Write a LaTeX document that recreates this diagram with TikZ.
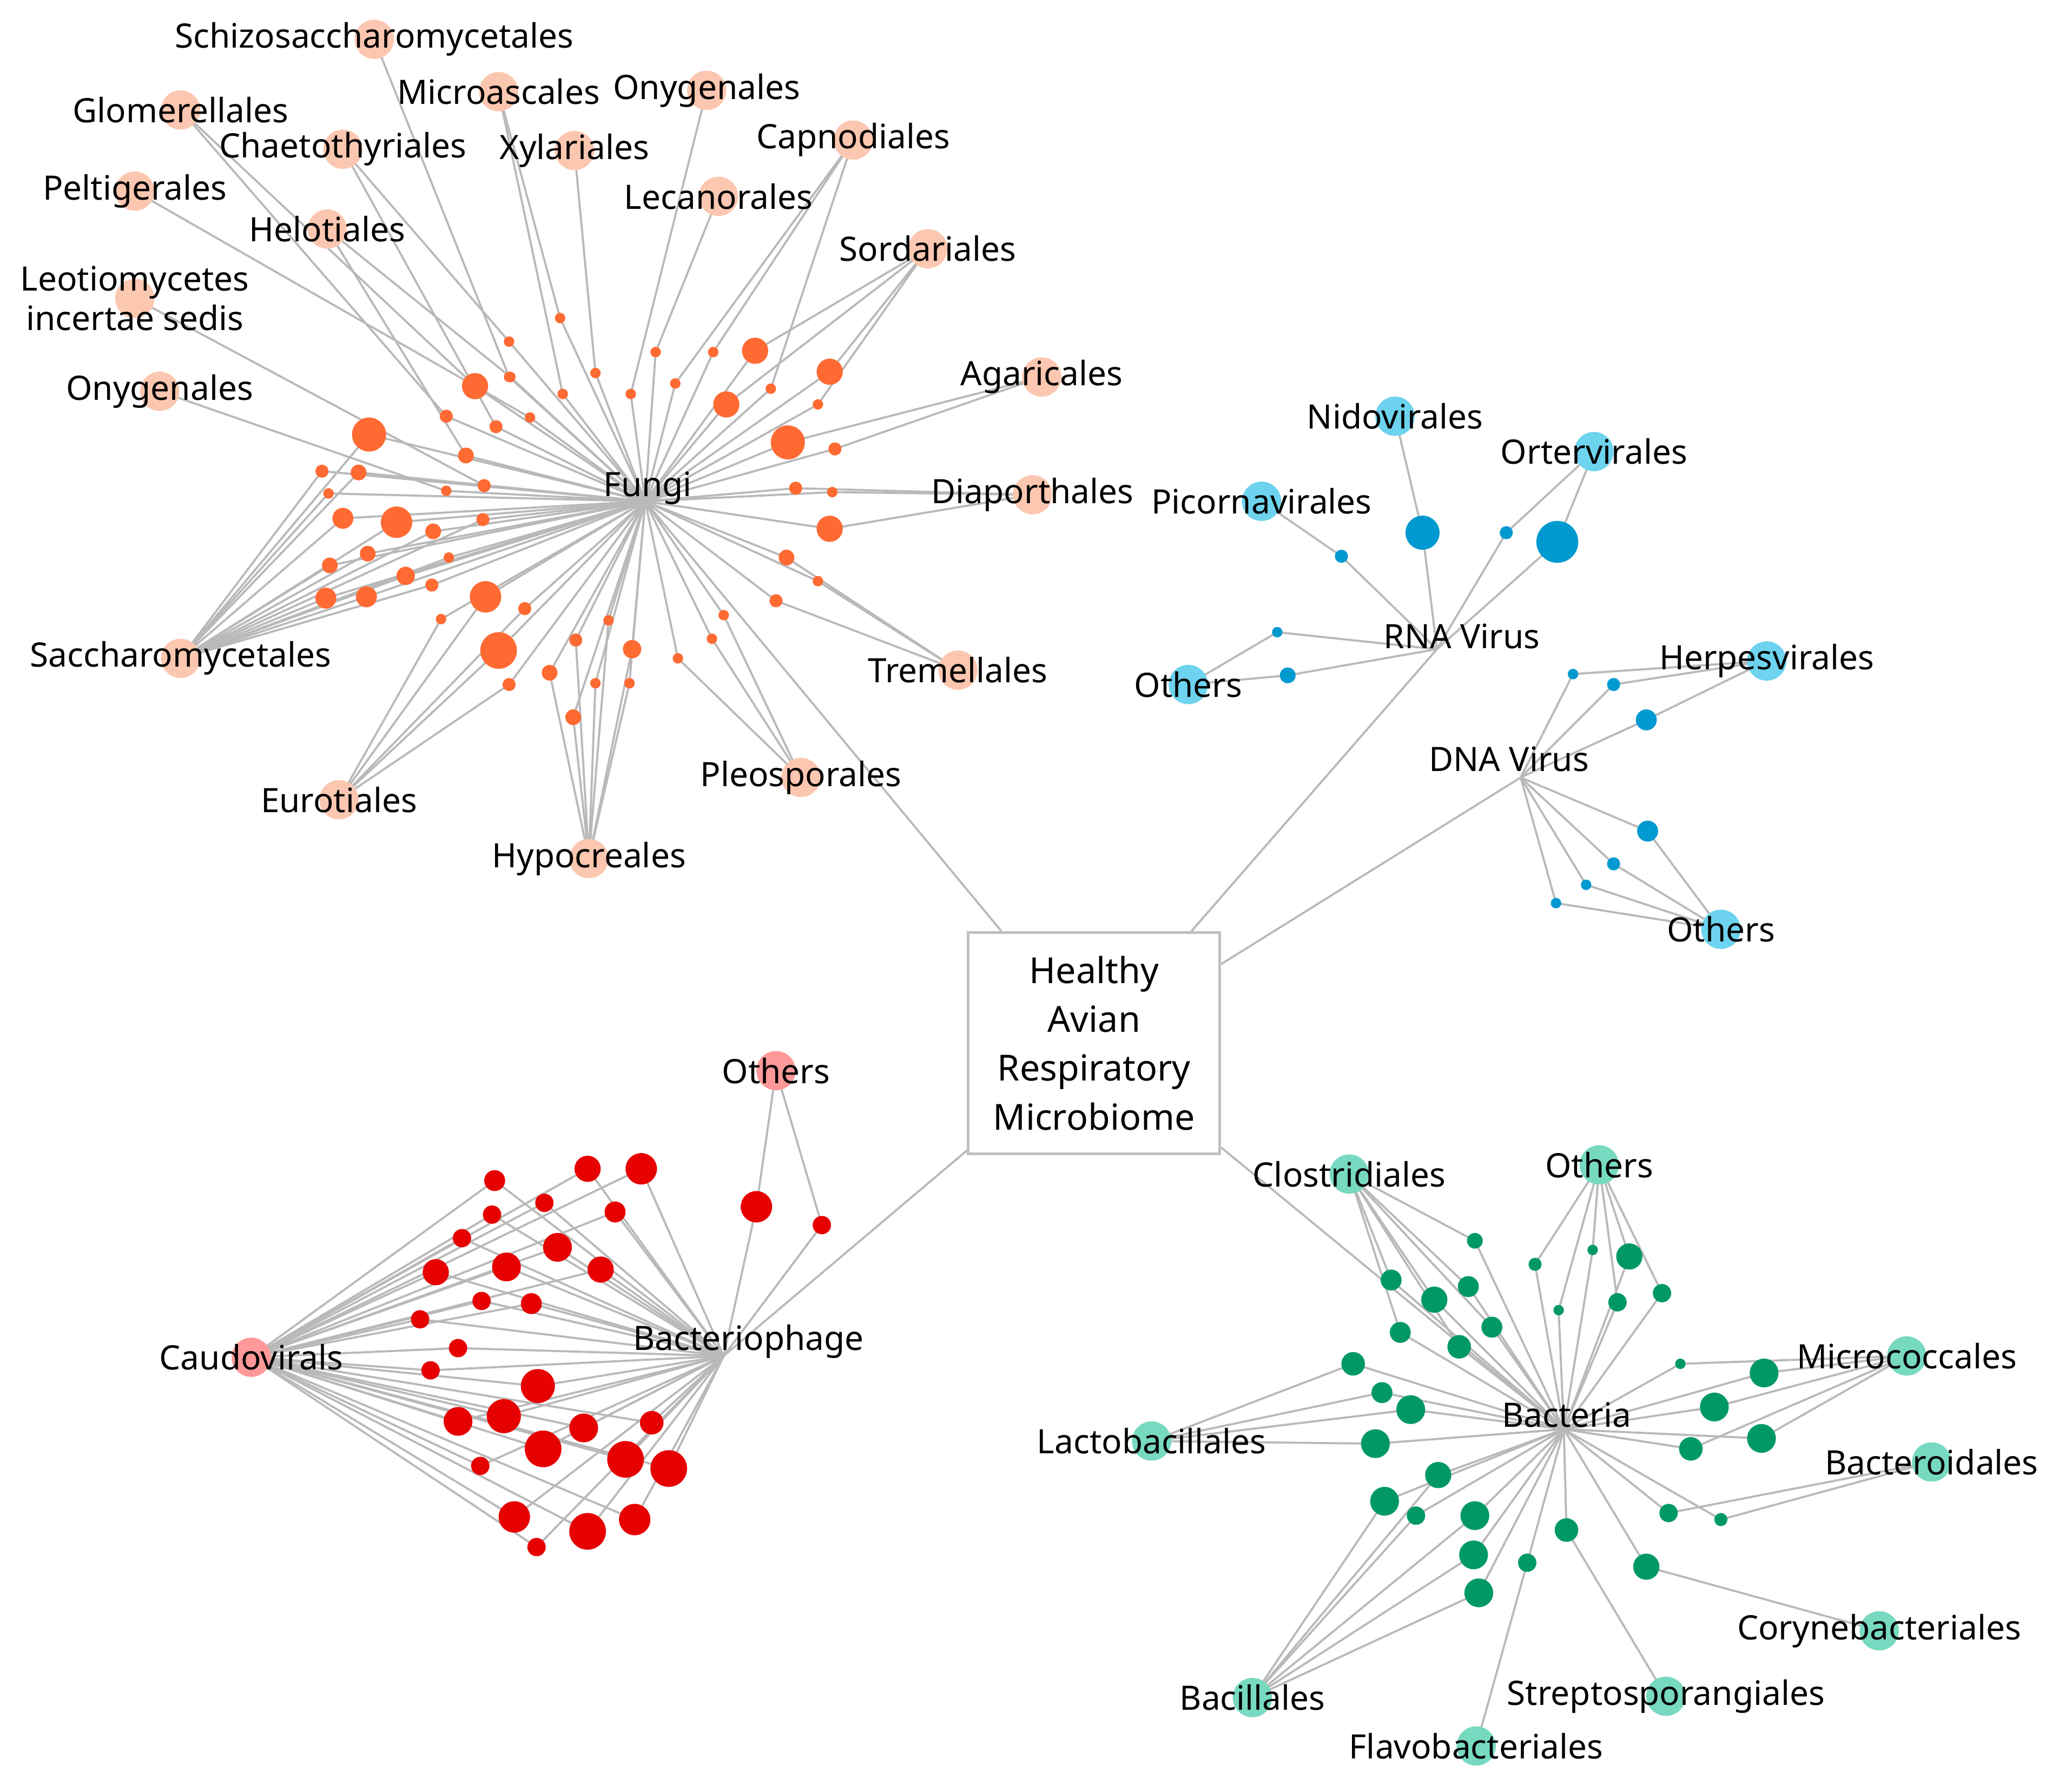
\documentclass[tikz,border=0pt]{standalone}
\usepackage{fontspec}
\setmainfont{Noto Sans}
\usetikzlibrary{backgrounds}
\definecolor{fungiL}{HTML}{FCC7B0}
\definecolor{fungiD}{HTML}{FF6A33}
\definecolor{virL}{HTML}{6DD3EE}
\definecolor{virD}{HTML}{0099D0}
\definecolor{phL}{HTML}{FF9999}
\definecolor{phD}{HTML}{E60000}
\definecolor{bacL}{HTML}{77D9BF}
\definecolor{bacD}{HTML}{009966}
\tikzset{
  edge/.style={draw=gray!55,line width=0.45pt},
  lab/.style={font=\fontsize{7.3}{8.6}\selectfont,align=center},
  order/.style={circle,inner sep=0,minimum size=0.3cm,fill=#1},
  dot/.style={circle,inner sep=0,fill=#1},
  hub/.style={lab,inner sep=0},
}
\begin{document}
\begin{tikzpicture}[x=0.01cm,y=-0.01cm]
  \useasboundingbox (0,0) rectangle (1568,1369);

  % centre
  \node[lab,draw=gray!50,line width=0.6pt,minimum width=1.92cm,minimum height=1.69cm,
        font=\fontsize{7.8}{10.6}\selectfont] (box) at (836,797)
        {Healthy\\Avian\\Respiratory\\Microbiome};

  % hubs
  \coordinate (fungi) at (493,383);
  \coordinate (rna) at (1098,496);
  \coordinate (dna) at (1162,594);
  \coordinate (phage) at (553,1036);
  \coordinate (bact) at (1195,1092);
  \node[hub] (fungiLab) at (495,373) {Fungi};
  \node[hub] (rnaLab) at (1117,486) {RNA Virus};
  \node[hub] (dnaLab) at (1153,580) {DNA Virus};
  \node[hub] (phageLab) at (572,1025) {Bacteriophage};
  \node[hub] (bactLab) at (1197,1081) {Bacteria};
  \begin{pgfonlayer}{background}
    \foreach \h in {fungi,rna,dna,phage,bact}
      \draw[edge] (box) -- (\h);
  \end{pgfonlayer}

  % orders
  \foreach \n/\x/\y/\t in {schizo/286/30/Schizosaccharomycetales, micro/381/70/Microascales,
      onyT/540/69/Onygenales, glom/138/84/Glomerellales, chae/262/114/Chaetothyriales,
      xyl/439/115/Xylariales, capn/652/107/Capnodiales, leca/549/150/Lecanorales,
      pelt/103/146/Peltigerales, helo/250/175/Helotiales, sord/709/190/Sordariales,
      leot/103/228/Leotiomycetes\\incertae sedis, agar/796/288/Agaricales,
      onyL/122/299/Onygenales, diap/789/378/Diaporthales, sacc/138/503/Saccharomycetales,
      trem/732/512/Tremellales, pleo/612/594/Pleosporales, euro/259/611/Eurotiales,
      hypo/450/656/Hypocreales}
    \node[order=fungiL,label={[lab]center:\t}] (\n) at (\x,\y) {};
  \foreach \n/\x/\y/\t in {nido/1066/318/Nidovirales, orte/1218/345/Ortervirales,
      pico/964/383/Picornavirales, rOth/908/523/Others, herp/1350/505/Herpesvirales,
      dOth/1315/710/Others}
    \node[order=virL,label={[lab]center:\t}] (\n) at (\x,\y) {};
  \foreach \n/\x/\y/\t in {cau/192/1037/Caudovirals, pOth/593/818/Others}
    \node[order=phL,label={[lab]center:\t}] (\n) at (\x,\y) {};
  \foreach \n/\x/\y/\t in {clos/1031/897/Clostridiales, bOth/1222/890/Others,
      mcoc/1457/1036/Micrococcales, lact/880/1101/Lactobacillales,
      bctd/1476/1117/Bacteroidales, cory/1436/1246/Corynebacteriales,
      baci/957/1297/Bacillales, strp/1273/1296/Streptosporangiales,
      flav/1128/1334/Flavobacteriales}
    \node[order=bacL,label={[lab]center:\t}] (\n) at (\x,\y) {};

  % fungi members
  \foreach \i/\x/\y/\r/\o in {1/389/288/4/schizo, 2/430/301/4/micro, 3/428/243/4/micro,
      4/482/301/4/onyT, 5/363/295/10/glom, 6/341/318/5/glom, 7/389/261/4/chae,
      8/379/326/5/chae, 9/455/285/4/xyl, 10/589/297/4/capn, 11/516/293/4/capn,
      12/545/269/4/capn, 13/501/269/4/leca, 14/405/319/4/pelt, 15/390/288/4/helo,
      16/356/348/6/helo, 17/577/268/10/sord, 18/555/309/10/sord, 19/634/284/10/sord,
      20/625/309/4/sord, 21/370/371/5/leot, 22/602/338/13/agar, 23/638/343/5/agar,
      24/341/375/4/onyL, 25/608/373/5/diap, 26/636/376/4/diap, 27/634/404/10/diap,
      28/601/426/6/trem, 29/625/444/4/trem, 30/593/459/5/trem, 31/553/470/4/pleo,
      32/544/488/4/pleo, 33/518/503/4/pleo, 34/483/496/7/hypo, 35/465/474/4/hypo,
      36/440/489/5/hypo, 37/420/514/6/hypo, 38/455/522/4/hypo, 39/481/522/4/hypo,
      40/438/548/6/hypo, 41/401/465/5/euro, 42/381/497/14/euro, 43/389/523/5/euro,
      44/337/473/4/euro, 45/371/456/12/euro, 46/282/332/13/sacc, 47/274/361/6/sacc,
      48/246/360/5/sacc, 49/251/377/4/sacc, 50/303/399/12/sacc, 51/262/396/8/sacc,
      52/331/406/6/sacc, 53/369/397/5/sacc, 54/281/423/6/sacc, 55/343/426/4/sacc,
      56/252/432/6/sacc, 57/310/440/7/sacc, 58/249/457/8/sacc, 59/280/456/8/sacc,
      60/330/447/5/sacc}
  {
    \node[dot=fungiD,minimum size=\r*0.02cm] (fd\i) at (\x,\y) {};
    \begin{pgfonlayer}{background}
      \draw[edge] (\o.center) -- (fd\i.center) -- (fungi);
    \end{pgfonlayer}
  }

  % virus members
  \foreach \i/\x/\y/\r/\o/\h in {1/1087/407/13/nido/rna, 2/1025/425/5/pico/rna,
      3/1151/407/5/orte/rna, 4/1190/414/16/orte/rna, 5/976/483/4/rOth/rna,
      6/984/516/6/rOth/rna, 7/1202/515/4/herp/dna, 8/1233/523/5/herp/dna,
      9/1258/550/8/herp/dna, 10/1259/635/8/dOth/dna, 11/1233/660/5/dOth/dna,
      12/1212/676/4/dOth/dna, 13/1189/690/4/dOth/dna}
  {
    \node[dot=virD,minimum size=\r*0.02cm] (vd\i) at (\x,\y) {};
    \begin{pgfonlayer}{background}
      \draw[edge] (\o.center) -- (vd\i.center) -- (\h);
    \end{pgfonlayer}
  }

  % phage members
  \foreach \i/\x/\y/\r/\o in {1/578/922/12/pOth, 2/628/936/7/pOth, 3/378/902/8/cau,
      4/449/893/10/cau, 5/490/893/12/cau, 6/416/919/7/cau, 7/376/928/7/cau,
      8/470/926/8/cau, 9/353/946/7/cau, 10/426/953/11/cau, 11/387/968/11/cau,
      12/333/972/10/cau, 13/459/970/10/cau, 14/368/994/7/cau, 15/406/996/8/cau,
      16/321/1008/7/cau, 17/350/1030/7/cau, 18/329/1047/7/cau, 19/411/1059/13/cau,
      20/350/1086/11/cau, 21/385/1082/13/cau, 22/446/1091/11/cau, 23/498/1087/9/cau,
      24/415/1107/14/cau, 25/478/1115/14/cau, 26/511/1122/14/cau, 27/367/1120/7/cau,
      28/393/1159/12/cau, 29/449/1170/14/cau, 30/485/1161/12/cau, 31/410/1182/7/cau}
  {
    \node[dot=phD,minimum size=\r*0.02cm] (pd\i) at (\x,\y) {};
    \begin{pgfonlayer}{background}
      \draw[edge] (\o.center) -- (pd\i.center) -- (phage);
    \end{pgfonlayer}
  }

  % bacteria members
  \foreach \i/\x/\y/\r/\o in {1/1127/948/6/clos, 2/1063/978/8/clos, 3/1096/993/10/clos,
      4/1122/983/8/clos, 5/1070/1018/8/clos, 6/1115/1029/9/clos, 7/1140/1014/8/clos,
      8/1173/966/5/bOth, 9/1217/955/4/bOth, 10/1245/960/10/bOth, 11/1191/1001/4/bOth,
      12/1236/995/7/bOth, 13/1270/988/7/bOth, 14/1284/1042/4/mcoc, 15/1348/1049/11/mcoc,
      16/1310/1075/11/mcoc, 17/1346/1099/11/mcoc, 18/1292/1107/9/mcoc,
      19/1034/1042/9/lact, 20/1056/1064/8/lact, 21/1078/1077/11/lact, 22/1051/1103/11/lact,
      23/1275/1156/7/bctd, 24/1315/1161/5/bctd, 25/1258/1197/10/cory,
      26/1099/1127/10/baci, 27/1058/1147/11/baci, 28/1082/1158/7/baci,
      29/1127/1158/11/baci, 30/1126/1188/11/baci, 31/1130/1217/11/baci,
      32/1197/1169/9/strp, 33/1167/1194/7/flav}
  {
    \node[dot=bacD,minimum size=\r*0.02cm] (bd\i) at (\x,\y) {};
    \begin{pgfonlayer}{background}
      \draw[edge] (\o.center) -- (bd\i.center) -- (bact);
    \end{pgfonlayer}
  }
\end{tikzpicture}
\end{document}
